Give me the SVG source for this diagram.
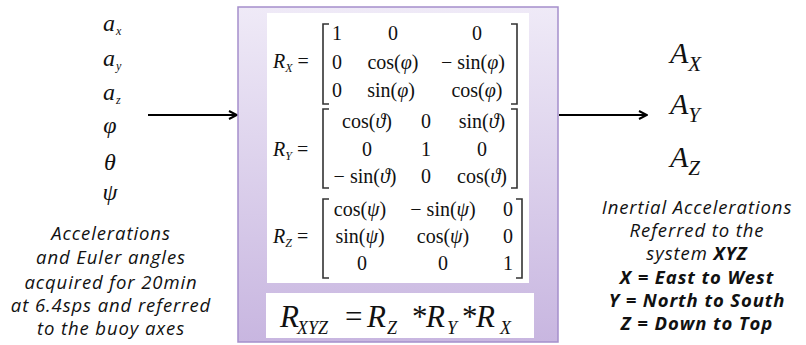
<svg xmlns="http://www.w3.org/2000/svg" width="806" height="345" viewBox="0 0 806 345">
<defs>
<linearGradient id="bg" x1="0" y1="0" x2="0" y2="1">
<stop offset="0" stop-color="#efeaf7"/>
<stop offset="1" stop-color="#c8b6e0"/>
</linearGradient>
<marker id="ah" viewBox="0 0 10 10" refX="9" refY="5" markerWidth="10" markerHeight="10" markerUnits="userSpaceOnUse" orient="auto">
<path d="M1,1 L9,5 L1,9" fill="none" stroke="#000" stroke-width="2"/>
</marker>
</defs>
<style>
.m{font-family:"Liberation Serif","Times New Roman",serif;fill:#111;}
.mi{font-family:"Liberation Serif","Times New Roman",serif;font-style:italic;fill:#111;}
.cap{font-family:"Open Sans","Noto Sans",sans-serif;font-style:italic;fill:#111;font-size:18.5px;letter-spacing:0.9px;text-anchor:middle;}
.b{font-weight:bold;}
.br{fill:none;stroke:#333;stroke-width:1.6;}
.mt{font-size:20px;text-anchor:middle;}
.cn{stroke:#000;stroke-width:2.2;fill:none;}
</style>
<rect width="806" height="345" fill="#fff"/>
<g id="connectors">
<line class="cn" x1="148" y1="115" x2="237" y2="115" marker-end="url(#ah)"/>
<line class="cn" x1="559" y1="115" x2="647" y2="115" marker-end="url(#ah)"/>
</g>
<g id="inputs">
<text class="mi" x="103" y="31" font-size="24">a<tspan font-size="12" dy="4" dx="1">x</tspan></text>
<text class="mi" x="103" y="66" font-size="24">a<tspan font-size="12" dy="4" dx="1">y</tspan></text>
<text class="mi" x="103" y="100" font-size="24">a<tspan font-size="12" dy="4" dx="1">z</tspan></text>
<text class="mi" x="110" y="133" font-size="24" text-anchor="middle">φ</text>
<text class="mi" x="110" y="170" font-size="24" text-anchor="middle">θ</text>
<text class="mi" x="110" y="200" font-size="24" text-anchor="middle">ψ</text>
<text class="cap" x="111" y="240">Accelerations</text>
<text class="cap" x="111" y="264">and Euler angles</text>
<text class="cap" x="111" y="289">acquired for 20min</text>
<text class="cap" x="111" y="312">at 6.4sps and referred</text>
<text class="cap" x="111" y="335">to the buoy axes</text>
</g>
<g id="rotation">
<rect x="238" y="7" width="320" height="335" fill="url(#bg)" stroke="#a58fcb" stroke-width="1.5"/>
<rect x="267" y="13" width="262" height="270" fill="#fff"/>
<rect x="266" y="293" width="268" height="45" fill="#fff"/>
<text class="mi" x="273" y="68" font-size="20">R<tspan font-size="12" dy="4">X</tspan><tspan class="m" font-style="normal" font-size="20" dy="-4"> =</tspan></text>
<path class="br" d="M329,24 H323 V104 H329 M511,24 H517 V104 H511"/>
<g class="m mt">
<text x="337" y="40">1</text><text x="393" y="40">0</text><text x="477" y="40">0</text>
<text x="337" y="69">0</text><text x="393" y="69">cos(<tspan class="mi">φ</tspan>)</text><text x="473" y="69">− sin(<tspan class="mi">φ</tspan>)</text>
<text x="337" y="97">0</text><text x="391" y="97">sin(<tspan class="mi">φ</tspan>)</text><text x="477" y="97">cos(<tspan class="mi">φ</tspan>)</text>
</g>
<text class="mi" x="273" y="156" font-size="20">R<tspan font-size="12" dy="4">Y</tspan><tspan class="m" font-style="normal" font-size="20" dy="-4"> =</tspan></text>
<path class="br" d="M329,109 H323 V188 H329 M511,109 H517 V188 H511"/>
<g class="m mt">
<text x="367" y="128">cos(<tspan class="mi">ϑ</tspan>)</text><text x="426" y="128">0</text><text x="482" y="128">sin(<tspan class="mi">ϑ</tspan>)</text>
<text x="367" y="156">0</text><text x="426" y="156">1</text><text x="482" y="156">0</text>
<text x="365" y="183">− sin(<tspan class="mi">ϑ</tspan>)</text><text x="426" y="183">0</text><text x="482" y="183">cos(<tspan class="mi">ϑ</tspan>)</text>
</g>
<text class="mi" x="273" y="243" font-size="20">R<tspan font-size="12" dy="4">Z</tspan><tspan class="m" font-style="normal" font-size="20" dy="-4"> =</tspan></text>
<path class="br" d="M329,199 H323 V278 H329 M516,199 H522 V278 H516"/>
<g class="m mt">
<text x="360" y="216">cos(<tspan class="mi">ψ</tspan>)</text><text x="443" y="216">− sin(<tspan class="mi">ψ</tspan>)</text><text x="508" y="216">0</text>
<text x="360" y="243">sin(<tspan class="mi">ψ</tspan>)</text><text x="443" y="243">cos(<tspan class="mi">ψ</tspan>)</text><text x="508" y="243">0</text>
<text x="362" y="270">0</text><text x="443" y="270">0</text><text x="508" y="270">1</text>
</g>
<text class="mi" y="327" font-size="31"><tspan x="280">R</tspan><tspan font-size="18" x="297" dy="7">XYZ</tspan><tspan class="m" font-style="normal" x="345" dy="-7">=</tspan><tspan x="367">R</tspan><tspan font-size="18" x="387" dy="7">Z</tspan><tspan class="m" font-style="normal" x="412" dy="-7">*</tspan><tspan x="426">R</tspan><tspan font-size="18" x="447" dy="7">Y</tspan><tspan class="m" font-style="normal" x="462" dy="-7">*</tspan><tspan x="476">R</tspan><tspan font-size="18" x="500" dy="7">X</tspan></text>
</g>
<g id="outputs">
<text class="mi" x="670" y="63" font-size="30">A<tspan font-size="21" dy="8">X</tspan></text>
<text class="mi" x="670" y="114" font-size="30">A<tspan font-size="21" dy="8">Y</tspan></text>
<text class="mi" x="670" y="167" font-size="30">A<tspan font-size="21" dy="8">Z</tspan></text>
<text class="cap" x="697" y="214">Inertial Accelerations</text>
<text class="cap" x="697" y="237">Referred to the</text>
<text class="cap" x="697" y="260">system <tspan class="b">XYZ</tspan></text>
<text class="cap b" x="697" y="284">X = East to West</text>
<text class="cap b" x="697" y="307">Y = North to South</text>
<text class="cap b" x="697" y="330">Z = Down to Top</text>
</g>
</svg>
